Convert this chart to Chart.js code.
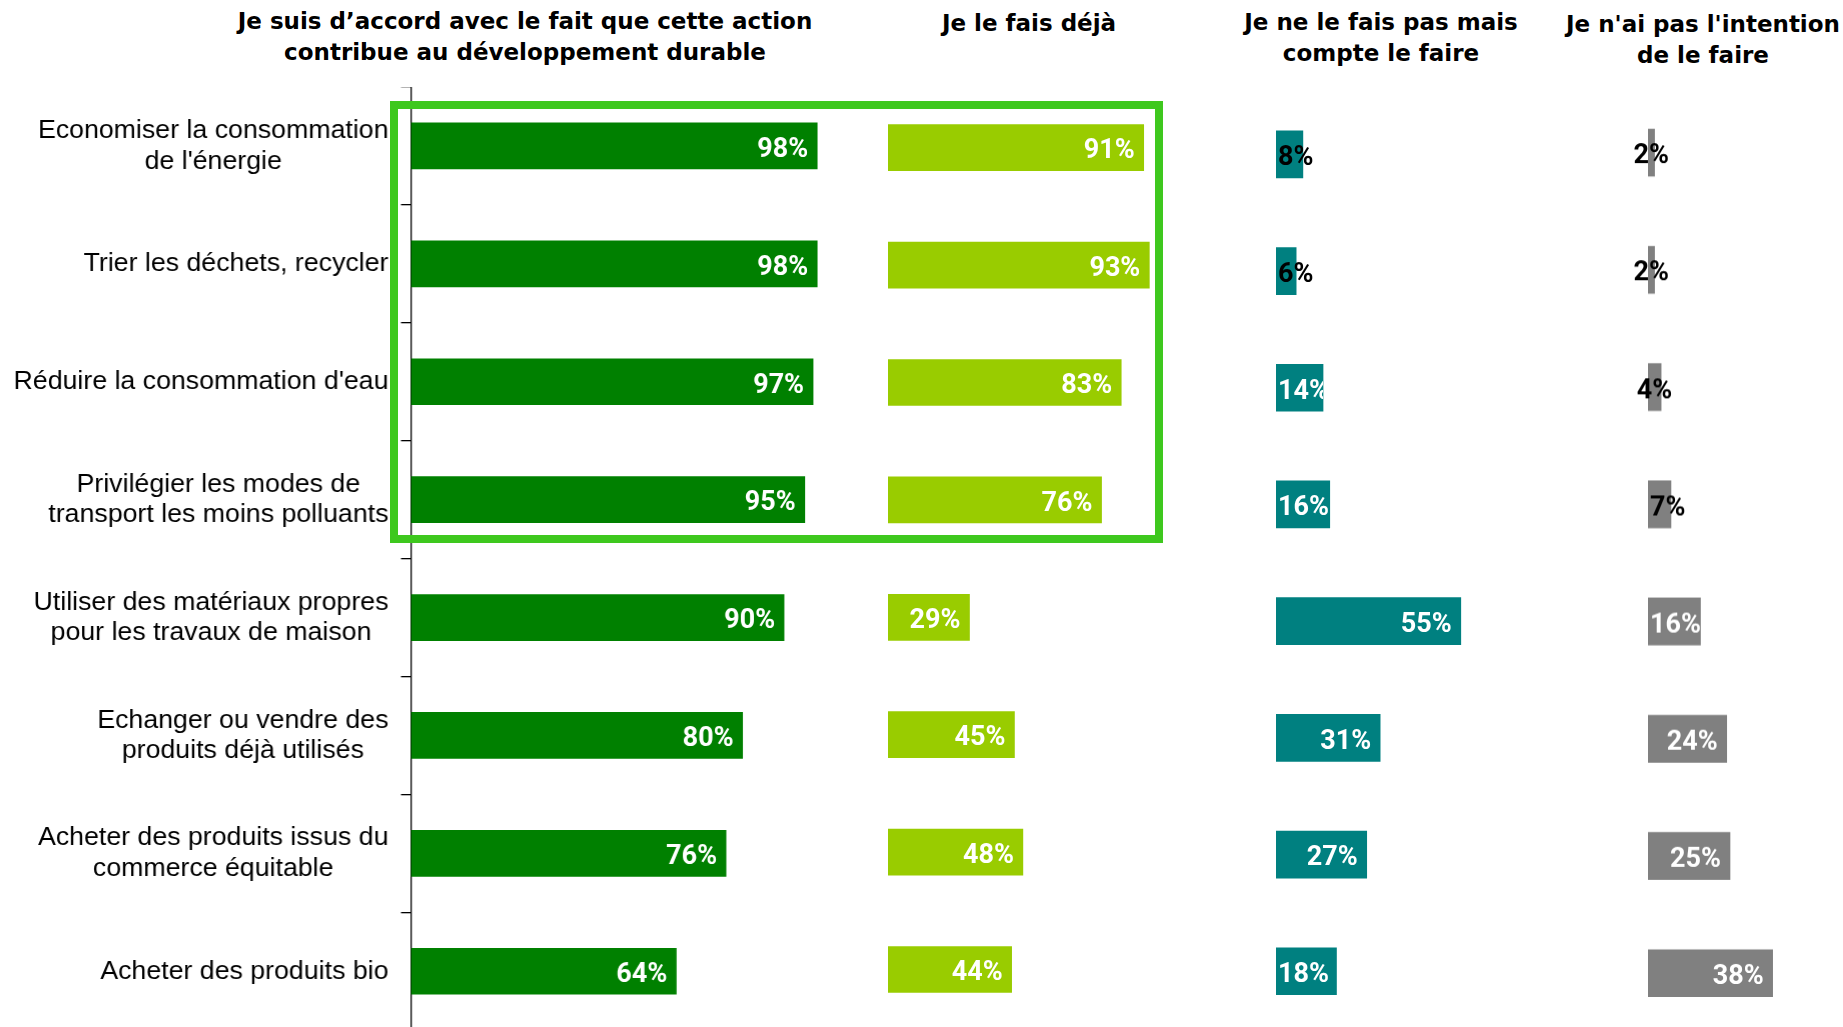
<!DOCTYPE html>
<html lang="fr">
<head>
    <meta charset="UTF-8">
    <title>Actions et développement durable</title>
    <script src="https://cdn.jsdelivr.net/npm/chart.js"></script>
    <style>
        html, body {
            margin: 0;
            padding: 0;
            background: #fff;
            overflow: hidden;
        }
        body {
            width: 1843px;
            height: 1027px;
            position: relative;
        }
        .panel {
            position: absolute;
        }
        .head {
            position: absolute;
            font-family: "DejaVu Sans", sans-serif;
            font-weight: bold;
            font-size: 23px;
            line-height: 31px;
            text-align: center;
            color: #000;
            white-space: nowrap;
            transform: translateX(-50%);
        }
        .cadre {
            position: absolute;
            left: 390px;
            top: 101px;
            width: 757px;
            height: 426px;
            border: 8px solid #3EC81E;
            z-index: 5;
        }
    </style>
</head>
<body>
    <div id="heads"></div>
    <div class="cadre"></div>

    <script>
        // Données
        const categories = [
            ["Economiser la consommation", "de l'énergie"],
            "Trier les déchets, recycler",
            "Réduire la consommation d'eau",
            ["Privilégier les modes de", "transport les moins polluants"],
            ["Utiliser des matériaux propres", "pour les travaux de maison"],
            ["Echanger ou vendre des", "produits déjà utilisés"],
            ["Acheter des produits issus du", "commerce équitable"],
            "Acheter des produits bio"
        ];
        const colonnes = [
            ["Je suis d’accord avec le fait que cette action", "contribue au développement durable"],
            ["Je le fais déjà"],
            ["Je ne le fais pas mais", "compte le faire"],
            ["Je n'ai pas l'intention", "de le faire"]
        ];
        const accord = [98, 98, 97, 95, 90, 80, 76, 64];
        const dejaFait = [91, 93, 83, 76, 29, 45, 48, 44];
        const compteFaire = [8, 6, 14, 16, 55, 31, 27, 18];
        const pasIntention = [2, 2, 4, 7, 16, 24, 25, 38];

        // Mise en page des quatre panneaux
        const panneaux = [
            { values: accord,       color: '#008000', start: 410.5,  padL: 410.5, areaW: 440, px100: 414, top: 86.8, band: 117.9, thick: 46, axe: true },
            { values: dejaFait,     color: '#99CC00', start: 887.5,  padL: 20,    areaW: 300, px100: 281, top: 89.0, band: 117.4, thick: 46 },
            { values: compteFaire,  color: '#008080', start: 1275.5, padL: 20,    areaW: 330, px100: 336, top: 95.6, band: 116.7, thick: 47 },
            { values: pasIntention, color: '#808080', start: 1647.7, padL: 30,    areaW: 195, px100: 328, top: 93.9, band: 117.1, thick: 47 }
        ];
        const enTetes = [
            { x: 525,  top: 5.5 },
            { x: 1029, top: 8 },
            { x: 1381, top: 7 },
            { x: 1703, top: 9 }
        ];

        // En-têtes de colonnes
        const heads = document.getElementById('heads');
        colonnes.forEach((lignes, i) => {
            const d = document.createElement('div');
            d.className = 'head';
            d.style.left = enTetes[i].x + 'px';
            d.style.top = enTetes[i].top + 'px';
            d.innerHTML = lignes.join('<br>');
            heads.appendChild(d);
        });

        // Étiquettes de valeurs dans les barres
        const etiquettes = {
            id: 'etiquettes',
            afterDatasetsDraw(chart) {
                const ctx = chart.ctx;
                const vals = chart.data.datasets[0].data;
                ctx.save();
                ctx.font = 'bold 27px Roboto';
                ctx.textBaseline = 'middle';
                ctx.textAlign = 'left';
                chart.getDatasetMeta(0).data.forEach((bar, i) => {
                    const txt = vals[i] + '%';
                    const w = ctx.measureText(txt).width;
                    const { x, y, base, height } = bar.getProps(['x', 'y', 'base', 'height'], true);
                    const barW = x - base;
                    const ty = y + 4;
                    let tx;
                    if (w + 20 <= barW) tx = x - 9 - w;
                    else if (barW < 15) tx = (base + x) / 2 - w / 2;
                    else tx = base + 2;
                    if (vals[i] >= 10) {
                        ctx.save();
                        ctx.beginPath();
                        ctx.rect(base, y - height / 2, barW, height);
                        ctx.clip();
                        ctx.fillStyle = '#fff';
                        ctx.fillText(txt, tx, ty);
                        ctx.restore();
                    } else {
                        ctx.fillStyle = '#000';
                        ctx.fillText(txt, tx, ty);
                    }
                });
                ctx.restore();
            }
        };

        // Libellés des catégories (lignes centrées, bloc aligné à droite)
        const libelles = {
            id: 'libelles',
            afterDraw(chart) {
                const ctx = chart.ctx;
                const yScale = chart.scales.y;
                const droite = 388;
                ctx.save();
                ctx.font = '26.7px "Liberation Sans"';
                ctx.fillStyle = '#000';
                ctx.textAlign = 'center';
                ctx.textBaseline = 'middle';
                categories.forEach((cat, i) => {
                    const lignes = Array.isArray(cat) ? cat : [cat];
                    const bw = Math.max(...lignes.map(l => ctx.measureText(l).width));
                    const cx = droite - bw / 2;
                    const y = yScale.getPixelForValue(i);
                    lignes.forEach((l, j) => {
                        ctx.fillText(l, cx, y + (j - (lignes.length - 1) / 2) * 30.5);
                    });
                });
                ctx.restore();
            }
        };

        function creerPanneau(p) {
            const div = document.createElement('div');
            div.className = 'panel';
            div.style.left = (p.start - p.padL) + 'px';
            div.style.top = p.top + 'px';
            div.style.width = (p.padL + p.areaW) + 'px';
            div.style.height = (p.band * categories.length) + 'px';
            const canvas = document.createElement('canvas');
            div.appendChild(canvas);
            document.body.appendChild(div);

            const plugins = [etiquettes];
            if (p.axe) plugins.push(libelles);

            new Chart(canvas.getContext('2d'), {
                type: 'bar',
                data: {
                    labels: categories,
                    datasets: [{
                        data: p.values,
                        backgroundColor: p.color,
                        barThickness: p.thick
                    }]
                },
                options: {
                    indexAxis: 'y',
                    responsive: true,
                    maintainAspectRatio: false,
                    animation: false,
                    layout: { padding: 0 },
                    plugins: {
                        legend: { display: false },
                        tooltip: { enabled: false }
                    },
                    scales: {
                        x: {
                            display: false,
                            min: 0,
                            max: p.areaW / p.px100 * 100
                        },
                        y: {
                            display: !!p.axe,
                            afterFit: s => { s.width = p.padL; },
                            ticks: { display: false },
                            grid: {
                                display: !!p.axe,
                                drawOnChartArea: false,
                                drawTicks: true,
                                tickLength: 10,
                                color: '#000',
                                lineWidth: 1.3
                            },
                            border: { display: !!p.axe, color: '#000', width: 1.3 }
                        }
                    }
                },
                plugins: plugins
            });
        }

        document.addEventListener('DOMContentLoaded', function() {
            panneaux.forEach(creerPanneau);
        });
    </script>
</body>
</html>
